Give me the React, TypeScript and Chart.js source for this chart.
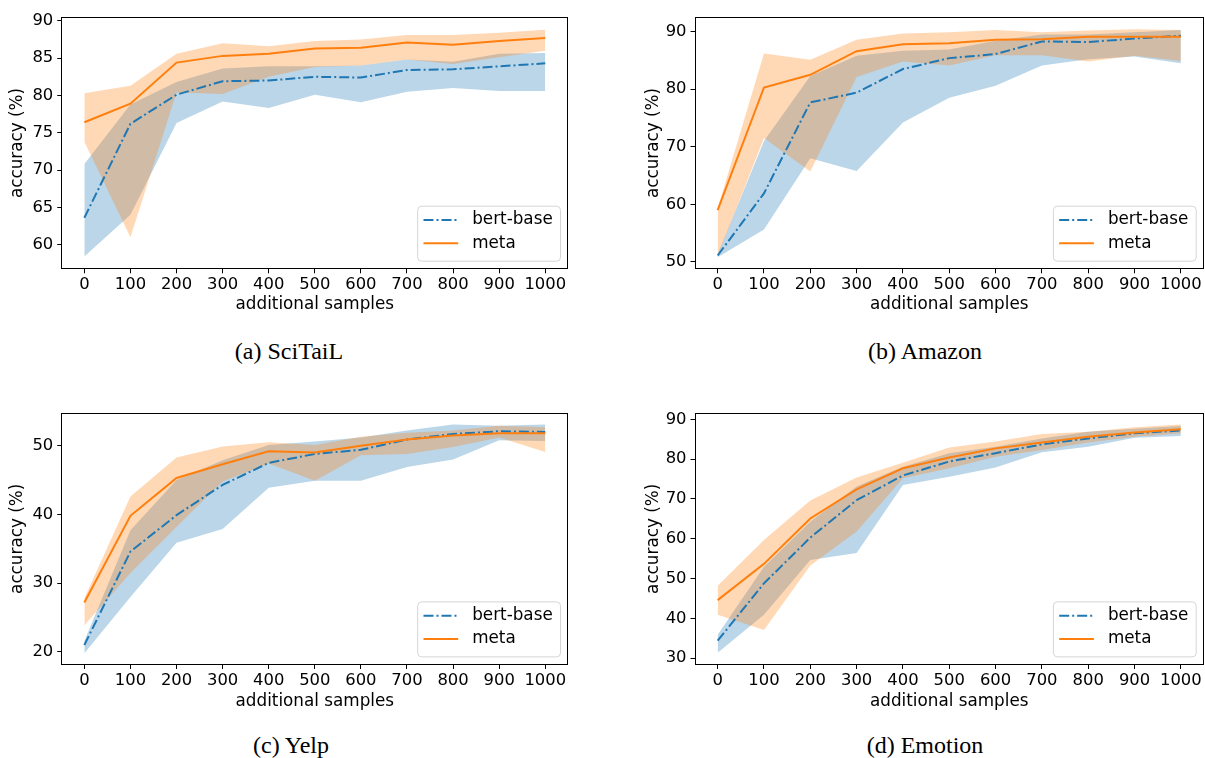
import React, { useEffect, useRef } from 'react';
import { Chart, registerables } from 'chart.js';

Chart.register(...registerables);

// ---------------- data ----------------
const SAMPLES = [0, 100, 200, 300, 400, 500, 600, 700, 800, 900, 1000];
const X_TICKS = [0, 100, 200, 300, 400, 500, 600, 700, 800, 900, 1000];

const SCITAIL_BERT = [63.6, 76.2, 80.1, 81.9, 82.0, 82.5, 82.4, 83.4, 83.5, 83.9, 84.3];
const SCITAIL_BERT_LO = [58.4, 64.0, 76.3, 79.2, 78.3, 80.1, 79.1, 80.5, 81.0, 80.6, 80.6];
const SCITAIL_BERT_HI = [70.8, 78.8, 81.8, 83.6, 83.9, 83.9, 84.0, 84.8, 84.5, 85.6, 85.7];
const SCITAIL_META = [76.4, 78.9, 84.4, 85.3, 85.6, 86.3, 86.4, 87.1, 86.8, 87.3, 87.7];
const SCITAIL_META_LO = [73.8, 61.0, 80.4, 80.2, 82.5, 83.8, 84.0, 84.8, 84.2, 85.1, 86.0];
const SCITAIL_META_HI = [80.3, 81.3, 85.6, 87.0, 86.6, 87.3, 87.5, 88.1, 88.1, 88.4, 88.8];
const SCITAIL_Y_TICKS = [60, 65, 70, 75, 80, 85, 90];

const AMAZON_BERT = [51.1, 61.9, 77.7, 79.4, 83.5, 85.4, 86.1, 88.3, 88.2, 88.8, 89.3];
const AMAZON_BERT_LO = [50.8, 55.6, 68.0, 65.8, 74.2, 78.5, 80.6, 84.1, 85.2, 85.7, 84.5];
const AMAZON_BERT_HI = [51.3, 71.0, 82.3, 85.8, 86.7, 86.9, 88.4, 89.5, 89.5, 89.9, 90.3];
const AMAZON_META = [59.0, 80.3, 82.5, 86.6, 87.8, 88.0, 88.6, 88.7, 89.1, 89.1, 89.1];
const AMAZON_META_LO = [51.0, 71.5, 65.7, 82.1, 84.8, 84.1, 85.9, 85.9, 84.8, 85.8, 84.9];
const AMAZON_META_HI = [59.3, 86.2, 85.1, 88.6, 89.7, 89.9, 90.3, 89.9, 90.2, 90.4, 90.3];
const AMAZON_Y_TICKS = [50, 60, 70, 80, 90];

const YELP_BERT = [21.0, 34.6, 39.9, 44.3, 47.5, 48.8, 49.4, 50.9, 51.7, 52.1, 52.0];
const YELP_BERT_LO = [19.8, 28.0, 35.9, 37.9, 43.9, 44.9, 44.9, 46.9, 48.0, 50.8, 50.7];
const YELP_BERT_HI = [21.6, 37.7, 45.0, 47.9, 50.1, 50.6, 51.2, 52.2, 53.1, 52.9, 53.1];
const YELP_META = [27.2, 39.8, 45.3, 47.3, 49.2, 49.0, 50.0, 50.9, 51.5, 51.8, 51.8];
const YELP_META_LO = [23.9, 31.5, 38.2, 44.8, 47.4, 44.9, 48.6, 48.8, 49.8, 51.2, 49.1];
const YELP_META_HI = [27.8, 42.6, 48.3, 49.9, 50.5, 50.1, 51.3, 51.9, 52.2, 52.9, 52.7];
const YELP_Y_TICKS = [20, 30, 40, 50];

const EMO_BERT = [34.4, 48.8, 60.3, 69.7, 75.9, 79.4, 81.5, 83.7, 85.2, 86.5, 87.2];
const EMO_BERT_LO = [31.4, 40.9, 54.7, 56.4, 73.5, 75.6, 77.9, 81.7, 83.1, 85.4, 85.8];
const EMO_BERT_HI = [35.9, 53.0, 64.3, 73.1, 78.1, 81.5, 83.1, 85.2, 86.9, 87.6, 88.3];
const EMO_META = [44.6, 53.7, 65.1, 72.4, 77.7, 80.4, 82.7, 84.2, 85.6, 86.7, 87.5];
const EMO_META_LO = [40.9, 37.1, 53.3, 61.8, 75.2, 77.7, 80.6, 82.3, 84.2, 85.6, 86.5];
const EMO_META_HI = [48.2, 59.7, 69.6, 75.4, 79.1, 82.9, 84.4, 86.3, 86.9, 88.0, 88.7];
const EMO_Y_TICKS = [30, 40, 50, 60, 70, 80, 90];

const LEGEND_LABELS = ['bert-base', 'meta'];
const X_TITLE = 'additional samples';
const Y_TITLE = 'accuracy (%)';

// ---------------- style ----------------
const BLUE = '#1f77b4';
const ORANGE = '#ff7f0e';
const BLUE_FILL = 'rgba(31,119,180,0.3)';
const ORANGE_FILL = 'rgba(255,127,14,0.3)';
const FONT = "'DejaVu Sans', sans-serif";
const FS = 16.8;
const TICK_FS = 16.4;
const DASHDOT = [10, 3, 2, 3];

type Area = { l: number; r: number; t: number; b: number };

type PanelProps = {
  left: number;
  top: number;
  width: number;
  height: number;
  area: Area;
  yTitleX: number;
  xTitleY: number;
  yMin: number;
  yMax: number;
  yTicks: number[];
  bert: number[];
  bertLo: number[];
  bertHi: number[];
  meta: number[];
  metaLo: number[];
  metaHi: number[];
};

const framePlugin = {
  id: 'frame',
  afterDatasetsDraw(chart: any) {
    const { ctx, chartArea: a } = chart;
    ctx.save();
    ctx.strokeStyle = '#000';
    ctx.lineWidth = 1;
    const l = Math.round(a.left) + 0.5;
    const t = Math.round(a.top) + 0.5;
    const r = Math.round(a.right) - 0.5;
    const b = Math.round(a.bottom) - 0.5;
    ctx.strokeRect(l, t, r - l, b - t);
    ctx.restore();
  },
};

const legendPlugin = {
  id: 'insetLegend',
  afterDraw(chart: any) {
    const { ctx, chartArea: a } = chart;
    ctx.save();
    ctx.font = `${FS}px ${FONT}`;
    const tw = Math.max(...LEGEND_LABELS.map((s) => ctx.measureText(s).width));
    const w = 6.3 + 34.7 + 14 + tw + 7.3;
    const h = 55;
    const x0 = a.right - 8.3 - w;
    const y0 = a.bottom - 8.6 - h;
    ctx.beginPath();
    (ctx as any).roundRect(x0 + 0.5, y0 + 0.5, w, h, 4);
    ctx.fillStyle = 'rgba(255,255,255,0.8)';
    ctx.fill();
    ctx.strokeStyle = '#d5d5d5';
    ctx.lineWidth = 1;
    ctx.stroke();
    const rows = [y0 + 14.3, y0 + 37.6];
    const colors = [BLUE, ORANGE];
    const dashes = [DASHDOT, []];
    rows.forEach((ry, i) => {
      ctx.beginPath();
      ctx.setLineDash(dashes[i]);
      ctx.strokeStyle = colors[i];
      ctx.lineWidth = 2;
      ctx.moveTo(x0 + 6.3, ry);
      ctx.lineTo(x0 + 41, ry);
      ctx.stroke();
      ctx.setLineDash([]);
      ctx.fillStyle = '#000';
      ctx.textBaseline = 'middle';
      ctx.textAlign = 'left';
      ctx.fillText(LEGEND_LABELS[i], x0 + 55, ry);
    });
    ctx.restore();
  },
};

function Panel(p: PanelProps) {
  const ref = useRef<HTMLCanvasElement>(null);
  useEffect(() => {
    const canvas = ref.current;
    if (!canvas) return;
    const pts = (ys: number[]) => SAMPLES.map((x, i) => ({ x, y: ys[i] }));
    const band = (ys: number[], fill: any, bg: string) => ({
      data: pts(ys),
      borderWidth: 0,
      borderColor: 'rgba(0,0,0,0)',
      pointRadius: 0,
      fill,
      backgroundColor: bg,
    });
    const yW = p.area.l - p.left;
    const xH = p.top + p.height - p.area.b;
    const chart = new Chart(canvas, {
      type: 'line',
      data: {
        datasets: [
          { label: 'meta', data: pts(p.meta), borderColor: ORANGE, borderWidth: 2, pointRadius: 0, fill: false },
          {
            label: 'bert-base',
            data: pts(p.bert),
            borderColor: BLUE,
            borderWidth: 2,
            borderDash: DASHDOT,
            pointRadius: 0,
            fill: false,
          },
          band(p.metaHi, '+1', ORANGE_FILL),
          band(p.metaLo, false, ORANGE_FILL),
          band(p.bertHi, '+1', BLUE_FILL),
          band(p.bertLo, false, BLUE_FILL),
        ] as any,
      },
      options: {
        animation: false,
        responsive: false,
        maintainAspectRatio: false,
        devicePixelRatio: 1,
        events: [],
        layout: {
          padding: { left: 0, top: p.area.t - p.top, right: p.left + p.width - p.area.r, bottom: 0 },
        },
        plugins: {
          legend: { display: false },
          tooltip: { enabled: false },
          filler: { drawTime: 'beforeDatasetsDraw' } as any,
        },
        scales: {
          x: {
            type: 'linear',
            min: -50,
            max: 1050,
            afterBuildTicks: (s: any) => {
              s.ticks = X_TICKS.map((v) => ({ value: v }));
            },
            afterFit: (s: any) => {
              s.height = xH;
            },
            ticks: {
              autoSkip: false,
              maxRotation: 0,
              padding: 2,
              color: '#000',
              font: { family: FONT, size: TICK_FS, lineHeight: 1.2 },
              callback: (v: any) => String(v),
            },
            grid: { display: true, drawOnChartArea: false, drawTicks: true, tickLength: 4, tickColor: '#000', tickWidth: 1 },
            border: { display: false },
            title: {
              display: true,
              text: X_TITLE,
              color: '#000',
              font: { family: FONT, size: FS, lineHeight: 1.2 },
              padding: { top: 0, bottom: p.top + p.height - p.xTitleY - FS * 0.6 },
            },
          },
          y: {
            type: 'linear',
            min: p.yMin,
            max: p.yMax,
            afterBuildTicks: (s: any) => {
              s.ticks = p.yTicks.map((v) => ({ value: v }));
            },
            afterFit: (s: any) => {
              s.width = yW;
            },
            ticks: {
              padding: 4,
              color: '#000',
              font: { family: FONT, size: TICK_FS, lineHeight: 1.2 },
              callback: (v: any) => String(v),
            },
            grid: { display: true, drawOnChartArea: false, drawTicks: true, tickLength: 4, tickColor: '#000', tickWidth: 1 },
            border: { display: false },
            title: {
              display: true,
              text: Y_TITLE,
              color: '#000',
              font: { family: FONT, size: FS, lineHeight: 1.2 },
              padding: { top: p.yTitleX - p.left - FS * 0.6, bottom: 0 },
            },
          },
        },
      } as any,
      plugins: [framePlugin, legendPlugin],
    });
    return () => chart.destroy();
  }, []);
  return (
    <canvas
      ref={ref}
      width={p.width}
      height={p.height}
      style={{ position: 'absolute', left: p.left, top: p.top, width: p.width, height: p.height }}
    />
  );
}

function Caption({ x, y, text }: { x: number; y: number; text: string }) {
  return (
    <div
      style={{
        position: 'absolute',
        left: x,
        top: y,
        transform: 'translate(-50%, -50%)',
        fontFamily: "'Liberation Serif', 'Times New Roman', serif",
        fontSize: 24,
        lineHeight: 1,
        color: '#000',
        whiteSpace: 'nowrap',
      }}
    >
      {text}
    </div>
  );
}

export default function App() {
  return (
    <div style={{ position: 'absolute', left: 0, top: 0, width: 1205, height: 758, background: '#fff', overflow: 'hidden' }}>
      <Panel
        left={0}
        top={0}
        width={600}
        height={325}
        area={{ l: 61.3, r: 568.3, t: 16.7, b: 269.3 }}
        yTitleX={18}
        xTitleY={305}
        yMin={56.7}
        yMax={90.55}
        yTicks={SCITAIL_Y_TICKS}
        bert={SCITAIL_BERT}
        bertLo={SCITAIL_BERT_LO}
        bertHi={SCITAIL_BERT_HI}
        meta={SCITAIL_META}
        metaLo={SCITAIL_META_LO}
        metaHi={SCITAIL_META_HI}
      />
      <Panel
        left={600}
        top={0}
        width={605}
        height={325}
        area={{ l: 694.5, r: 1204, t: 16.7, b: 269.3 }}
        yTitleX={653.3}
        xTitleY={305}
        yMin={48.7}
        yMax={92.6}
        yTicks={AMAZON_Y_TICKS}
        bert={AMAZON_BERT}
        bertLo={AMAZON_BERT_LO}
        bertHi={AMAZON_BERT_HI}
        meta={AMAZON_META}
        metaLo={AMAZON_META_LO}
        metaHi={AMAZON_META_HI}
      />
      <Panel
        left={0}
        top={390}
        width={600}
        height={330}
        area={{ l: 61.3, r: 568.3, t: 412.7, b: 665 }}
        yTitleX={18}
        xTitleY={701.7}
        yMin={18.1}
        yMax={54.8}
        yTicks={YELP_Y_TICKS}
        bert={YELP_BERT}
        bertLo={YELP_BERT_LO}
        bertHi={YELP_BERT_HI}
        meta={YELP_META}
        metaLo={YELP_META_LO}
        metaHi={YELP_META_HI}
      />
      <Panel
        left={600}
        top={390}
        width={605}
        height={330}
        area={{ l: 694.5, r: 1204, t: 412.7, b: 665 }}
        yTitleX={653.3}
        xTitleY={701.7}
        yMin={28.3}
        yMax={91.66}
        yTicks={EMO_Y_TICKS}
        bert={EMO_BERT}
        bertLo={EMO_BERT_LO}
        bertHi={EMO_BERT_HI}
        meta={EMO_META}
        metaLo={EMO_META_LO}
        metaHi={EMO_META_HI}
      />
      <Caption x={289} y={351} text="(a) SciTaiL" />
      <Caption x={925} y={351} text="(b) Amazon" />
      <Caption x={291} y={745} text="(c) Yelp" />
      <Caption x={925} y={745} text="(d) Emotion" />
    </div>
  );
}
